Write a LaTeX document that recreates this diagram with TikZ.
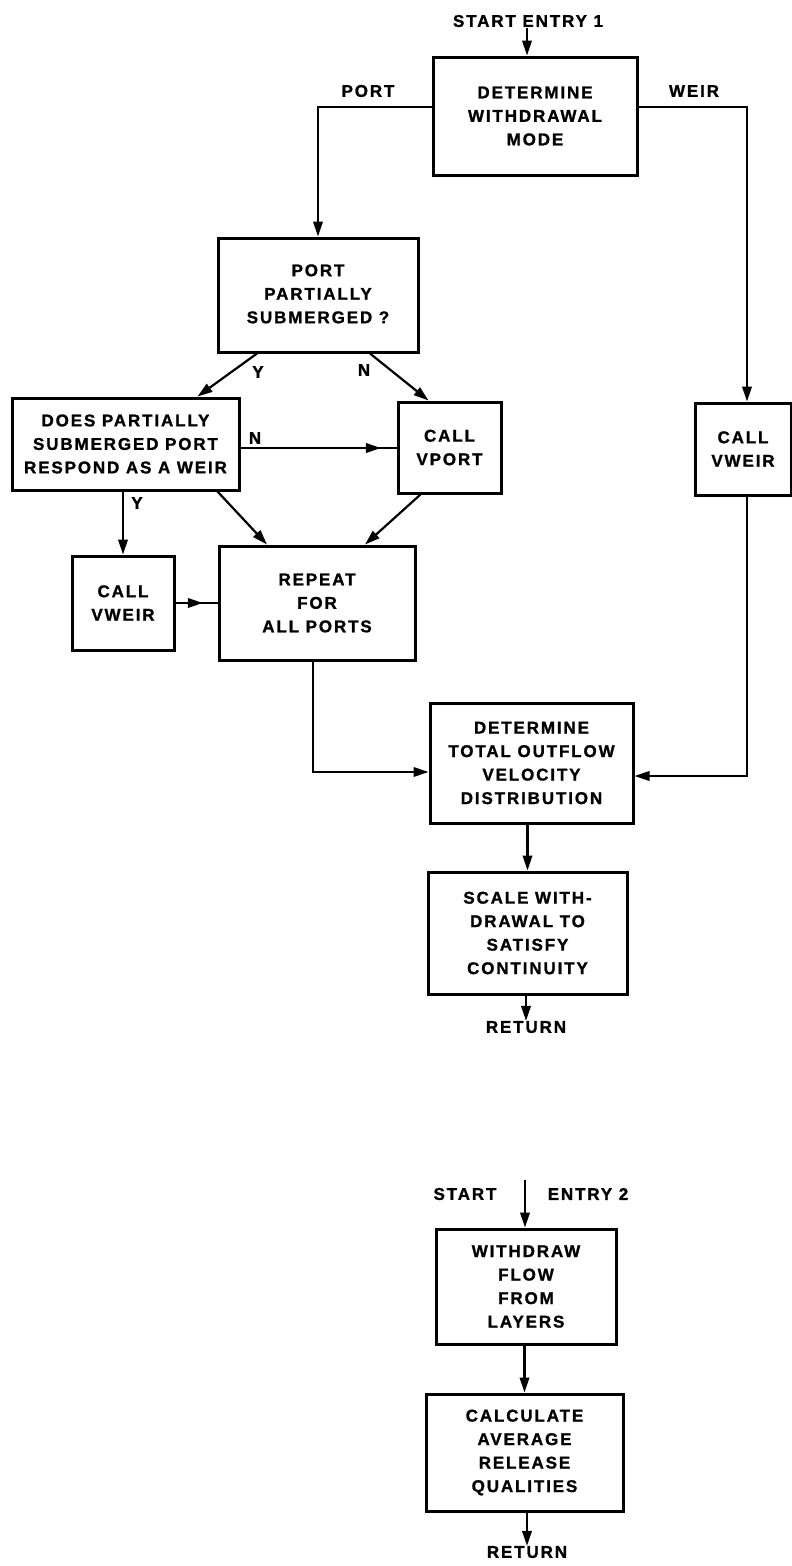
\documentclass[tikz,border=0pt]{standalone}
\usepackage{fontspec}
\newfontfamily\flowfont{Liberation Sans}[LetterSpace=11,FakeBold=1.2]
\usetikzlibrary{arrows.meta,decorations.markings}

\tikzset{
  txt/.style={font=\flowfont\bfseries\fontsize{17}{23.5}\selectfont},
  box/.style={txt, draw, line width=3pt, align=center, inner sep=0pt},
  lbl/.style={txt, inner sep=0pt},
  tip/.tip={Triangle[length=15pt,width=9.5pt]},
  arr/.style={line width=2.2pt, -tip},
  midarr/.style={line width=2.2pt, postaction=decorate,
    decoration={markings, mark=at position #1 with {\arrow{tip}}}}
}

\begin{document}
\begin{tikzpicture}[x=1pt, y=-1pt]
\useasboundingbox (0,0) rectangle (792,1566);

% --- entry 1 ---
\node[lbl] (start1) at (528,21) {START ENTRY 1};
\coordinate (s1) at (527,28);
\node[box, minimum width=204pt, minimum height=118pt] (b1) at (535,116)
  {DETERMINE\\WITHDRAWAL\\MODE};
\node[lbl] (lport) at (368,91) {PORT};
\node[lbl] (lweir) at (694,91) {WEIR};

\node[box, minimum width=200pt, minimum height=114pt] (portq) at (318,295)
  {\raisebox{3pt}{\begin{tabular}{@{}c@{}}PORT\\PARTIALLY\\SUBMERGED ?\end{tabular}}};
\node[box, minimum width=227pt, minimum height=92pt] (doesq) at (125.5,444)
  {DOES PARTIALLY\\SUBMERGED PORT\\RESPOND AS A WEIR};
\node[box, minimum width=103pt, minimum height=91pt] (vport) at (449.5,447.5)
  {CALL\\VPORT};
\node[box, minimum width=96pt, minimum height=92pt] (vweirR) at (743,449)
  {CALL\\VWEIR};
\node[box, minimum width=102pt, minimum height=94pt] (vweirL) at (123,603)
  {CALL\\VWEIR};
\node[box, minimum width=196pt, minimum height=114pt] (rep) at (317,603)
  {REPEAT\\FOR\\ALL PORTS};
\node[box, minimum width=203pt, minimum height=120pt] (dt) at (531.5,763)
  {DETERMINE\\TOTAL OUTFLOW\\VELOCITY\\DISTRIBUTION};
\node[box, minimum width=199pt, minimum height=122pt] (sc) at (527.5,933)
  {SCALE WITH-\\DRAWAL TO\\SATISFY\\CONTINUITY};
\node[lbl] (ret1) at (526,1027) {RETURN};

\node[lbl] (ly1) at (258,372) {Y};
\node[lbl] (ln1) at (364,370) {N};
\node[lbl] (ln2) at (255,438) {N};
\node[lbl] (ly2) at (137,503) {Y};

% --- entry 2 ---
\node[lbl] (lstart) at (465,1194) {START};
\node[lbl] (lentry) at (588,1194) {ENTRY 2};
\coordinate (s2) at (525,1180);
\node[box, minimum width=180pt, minimum height=115pt] (wd) at (526,1286.5)
  {WITHDRAW\\FLOW\\FROM\\LAYERS};
\node[box, minimum width=197pt, minimum height=117pt] (calc) at (524.5,1452.5)
  {CALCULATE\\AVERAGE\\RELEASE\\QUALITIES};
\node[lbl] (ret2) at (527,1552) {RETURN};

% --- connectors ---
\draw[arr] (s1) -- (s1 |- b1.north);
\draw[arr] ([yshift=9pt]b1.west) -| (portq.north);
\draw[arr] ([yshift=9pt]b1.east) -| ([xshift=4pt]vweirR.north);
\draw[arr] ([xshift=-61pt]portq.south) -- ([xshift=72pt]doesq.north);
\draw[arr] ([xshift=52pt]portq.south) -- ([xshift=-21pt]vport.north);
\draw[midarr=0.9] ([yshift=-4pt]doesq.east) coordinate (dn) -- (dn -| vport.west);
\draw[arr] (vweirL.north |- doesq.south) -- (vweirL.north);
\draw[arr] ([xshift=92pt]doesq.south) -- ([xshift=-50pt]rep.north);
\draw[arr] ([xshift=-29pt]vport.south) -- ([xshift=48pt]rep.north);
\draw[midarr=0.65] (vweirL.east) -- (vweirL.east -| rep.west);
\draw[arr] ([xshift=-4pt]rep.south) |- ([yshift=-9pt]dt.west);
\draw[arr] ([xshift=4pt]vweirR.south) |- ([yshift=-13pt]dt.east);
\draw[arr] (sc.north |- dt.south) -- (sc.north);
\draw[arr] (sc.south -| ret1.north) -- (ret1.north);
\draw[arr] (s2) -- (s2 |- wd.north);
\draw[arr] (calc.north |- wd.south) -- (calc.north);
\draw[arr] (calc.south -| ret2.north) -- (ret2.north);
\end{tikzpicture}
\end{document}
